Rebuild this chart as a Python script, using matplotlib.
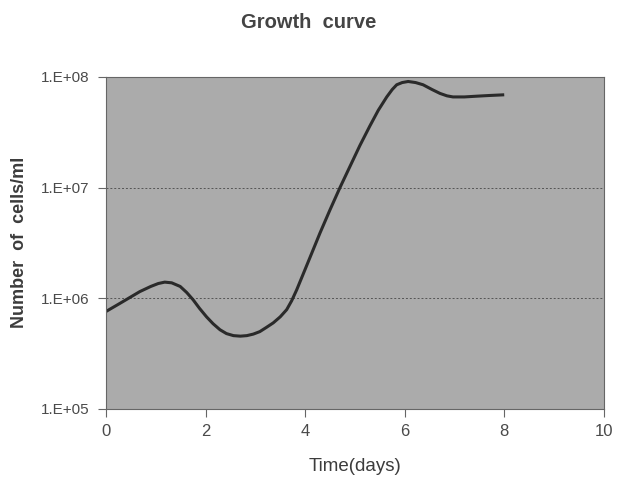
import math
import matplotlib
matplotlib.use('Agg')
import matplotlib.pyplot as plt
from matplotlib import rcParams
from matplotlib.ticker import FixedLocator, FuncFormatter
rcParams['font.family'] = ['Liberation Sans', 'DejaVu Sans']

# values
time_days = [0.0, 0.28, 0.5, 0.68, 0.9, 1.05, 1.18, 1.32, 1.49, 1.62, 1.75,
             1.88, 2.02, 2.15, 2.29, 2.42, 2.56, 2.70, 2.83, 2.96, 3.09, 3.22,
             3.36, 3.50, 3.63, 3.73, 3.83, 3.96, 4.10, 4.30, 4.50, 4.70, 4.90,
             5.10, 5.30, 5.47, 5.64, 5.75, 5.84, 5.95, 6.07, 6.22, 6.37, 6.55,
             6.71, 6.85, 6.97, 7.2, 7.44, 7.7, 8.0]
cells_per_ml = [7.6e5, 9.0e5, 1.03e6, 1.15e6, 1.28e6, 1.36e6, 1.40e6, 1.38e6,
                1.28e6, 1.13e6, 9.7e5, 8.1e5, 6.8e5, 5.9e5, 5.2e5, 4.8e5,
                4.6e5, 4.55e5, 4.6e5, 4.75e5, 5.0e5, 5.45e5, 6.0e5, 6.8e5,
                7.9e5, 9.5e5, 1.19e6, 1.65e6, 2.35e6, 3.9e6, 6.3e6, 1.0e7,
                1.55e7, 2.4e7, 3.6e7, 5.0e7, 6.6e7, 7.7e7, 8.5e7, 8.9e7,
                9.1e7, 8.9e7, 8.5e7, 7.7e7, 7.1e7, 6.75e7, 6.6e7, 6.6e7,
                6.7e7, 6.8e7, 6.9e7]
x_ticks = [0, 2, 4, 6, 8, 10]
y_ticks = [1e5, 1e6, 1e7, 1e8]

txt = '#3c3c3c'

fig = plt.figure(figsize=(6.18, 4.78), dpi=100)
ax = fig.add_axes([0.1715, 0.1444, 0.8055, 0.6946])
ax.set_facecolor('#ababab')

ax.plot(time_days, cells_per_ml, color='#2a2a2a', lw=2.2,
        solid_joinstyle='round', solid_capstyle='butt')

ax.set_yscale('log')
ax.set_xlim(0, 10)
ax.set_ylim(1e5, 1e8)
ax.xaxis.set_major_locator(FixedLocator(x_ticks))
ax.yaxis.set_major_locator(FixedLocator(y_ticks))
ax.yaxis.set_minor_locator(FixedLocator([]))
ax.yaxis.set_major_formatter(FuncFormatter(lambda v, p: '1.E+%02d' % round(math.log10(v))))
ax.grid(axis='y', which='major', color='#555555', ls=(0, (2, 2)), lw=0.7)

for s in ax.spines.values():
    s.set_color('#666666')
    s.set_linewidth(0.8)
ax.tick_params(axis='both', direction='out', length=6, width=0.8, color='#666666',
               labelcolor='#4a4a4a')
ax.tick_params(axis='y', labelsize=11, pad=6)
ax.tick_params(axis='x', labelsize=12, pad=5)

fig.text(0.499, 0.953, 'Growth  curve', ha='center', va='center',
         fontsize=14.5, fontweight='bold', color='#444444')
fig.text(0.574, 0.025, 'Time(days)', ha='center', va='center',
         fontsize=13.5, color=txt)
fig.text(0.031, 0.492, 'Number  of  cells/ml', ha='center', va='center',
         rotation=90, fontsize=13, fontweight='bold', color=txt)

fig.savefig('out.png', dpi=100)
